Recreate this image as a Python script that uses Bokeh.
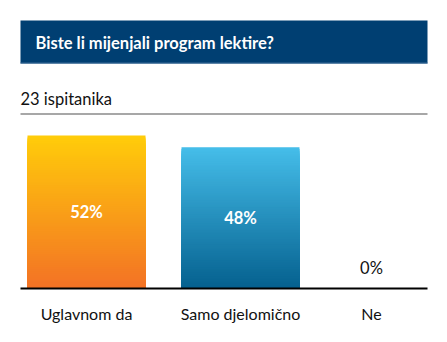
from bokeh.plotting import figure
from bokeh.models import Range1d, ColumnDataSource
from bokeh.core.properties import value
from bokeh.embed import file_html
from bokeh.resources import INLINE

title = "Biste li mijenjali program lektire?"
subtitle = "23 ispitanika"
categories = ["Uglavnom da", "Samo djelomično", "Ne"]
percent = [52, 48, 0]
value_labels = ["52%", "48%", "0%"]

# layout (pixels)
W, H = 447, 342
x_centers = [86, 240, 371]
bar_w = 118
base_px = 288
k = 153 / 52.0  # px per percent
FONT = "Lato"

top_colors = [(255, 204, 10), (69, 189, 233), (200, 200, 200)]
bot_colors = [(243, 114, 37), (5, 97, 143), (150, 150, 150)]

p = figure(width=W, height=H, output_backend="svg", toolbar_location=None,
           min_border=0, x_range=Range1d(0, W),
           y_range=Range1d(-(H - base_px) / k, base_px / k))
p.extra_y_ranges = {"px": Range1d(H, 0)}
p.axis.visible = False
p.xaxis.visible = False
p.yaxis.visible = False
p.grid.visible = False
p.outline_line_color = None
p.background_fill_color = "white"
p.border_fill_color = "white"

# header bar
p.quad(left=[20], right=[427], top=[20], bottom=[63], y_range_name="px",
       fill_color="#003F72", line_color=None)
p.segment(x0=[20], x1=[427], y0=[62.5], y1=[62.5], y_range_name="px",
          line_color="#3a6a96", line_width=1)
p.text(x=[35], y=[42], text=[title], y_range_name="px",
       text_font=value(FONT), text_font_style="bold", text_font_size="16.5px",
       text_color="white", text_baseline="middle", text_align="left")
p.text(x=[20], y=[98], text=[subtitle], y_range_name="px",
       text_font=value(FONT), text_font_size="16.5px",
       text_color="#111111", text_baseline="middle", text_align="left")
p.segment(x0=[20], x1=[427], y0=[113.5], y1=[113.5], y_range_name="px",
          line_color="#8a8a8a", line_width=1.3)

# gradient bars built as nested rectangles
N = 80
L, R, T, B, C = [], [], [], [], []
for i, v in enumerate(percent):
    if v <= 0:
        continue
    for j in range(N):
        t = j / (N - 1)
        col = tuple(int(round(top_colors[i][c] + (bot_colors[i][c] - top_colors[i][c]) * t)) for c in range(3))
        L.append(x_centers[i] - bar_w / 2)
        R.append(x_centers[i] + bar_w / 2)
        T.append(v * (1 - j / N))
        B.append(0)
        C.append("#%02x%02x%02x" % col)
p.quad(source=ColumnDataSource(dict(left=L, right=R, top=T, bottom=B, color=C)),
       left="left", right="right", top="top", bottom="bottom",
       fill_color="color", line_color=None)

# baseline
p.segment(x0=[20], x1=[427], y0=[0], y1=[0], line_color="black", line_width=2)

# value labels
lab_y = [v / 2 if v > 0 else 21 / k for v in percent]
lab_c = ["white" if v > 0 else "#111111" for v in percent]
lab_s = ["bold" if v > 0 else "normal" for v in percent]
for i in range(len(percent)):
    p.text(x=[x_centers[i]], y=[lab_y[i]], text=[value_labels[i]],
           text_font=value(FONT), text_font_style=lab_s[i], text_font_size="16.5px",
           text_color=lab_c[i], text_align="center", text_baseline="middle")

# category labels
p.text(x=x_centers, y=[313] * 3, text=categories, y_range_name="px",
       text_font=value(FONT), text_font_size="16px", text_color="#111111",
       text_align="center", text_baseline="middle")

open("out.html", "w").write(file_html(p, INLINE))
